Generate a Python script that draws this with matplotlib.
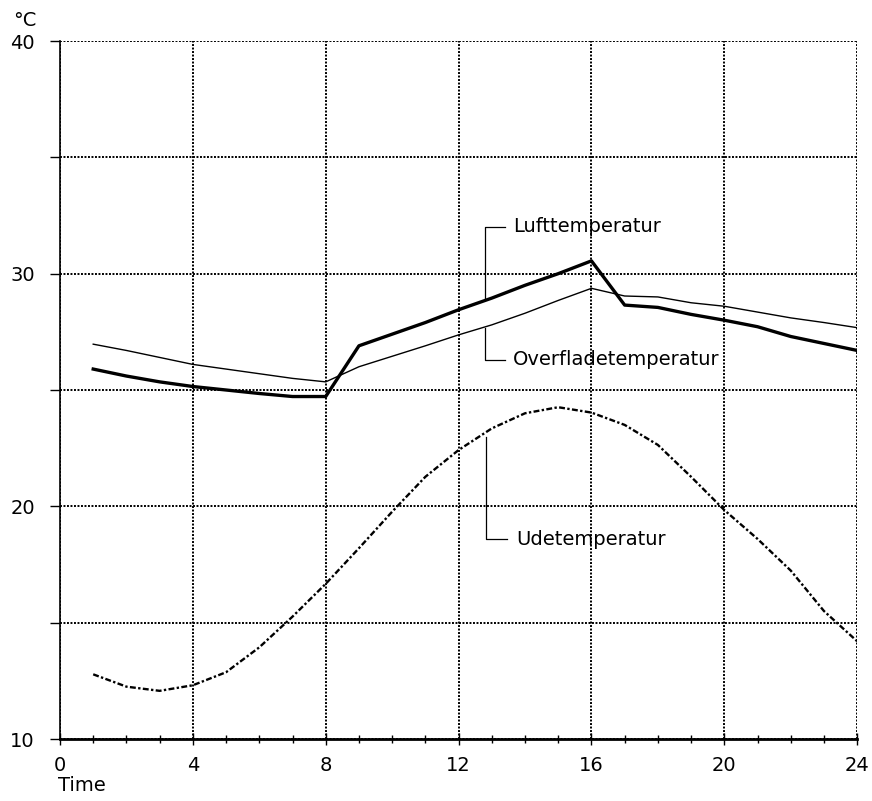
import matplotlib
matplotlib.use("Agg")
import matplotlib.pyplot as plt
from matplotlib.ticker import MultipleLocator, FixedLocator

plt.rcParams["font.family"] = ["DejaVu Sans"]

hours = list(range(1, 25))

# hourly temperatures (deg C)
luft = [25.9, 25.6, 25.35, 25.15, 25.0, 24.85, 24.72, 24.72,
        26.9, 27.4, 27.9, 28.45, 28.95, 29.5, 30.0, 30.55,
        28.65, 28.55, 28.25, 28.0, 27.72, 27.3, 27.0, 26.7]
overflade = [26.97, 26.7, 26.4, 26.1, 25.9, 25.7, 25.5, 25.35,
             26.0, 26.45, 26.9, 27.37, 27.8, 28.3, 28.85, 29.37,
             29.04, 29.0, 28.75, 28.6, 28.35, 28.1, 27.9, 27.68]
ude = [12.78, 12.25, 12.07, 12.31, 12.87, 13.94, 15.26, 16.67,
       18.2, 19.77, 21.27, 22.42, 23.35, 24.0, 24.26, 24.03,
       23.5, 22.64, 21.27, 19.84, 18.6, 17.24, 15.5, 14.2]

x_ticks = [0, 4, 8, 12, 16, 20, 24]
y_ticks = [10, 15, 20, 25, 30, 35, 40]
y_labels = ["10", "", "20", "", "30", "", "40"]

fig = plt.figure(figsize=(8.72, 8.01), dpi=100)
ax = fig.add_axes([0.0688, 0.0774, 0.9142, 0.8714])

ax.plot(hours, overflade, color="black", lw=1.0, zorder=3)
ax.plot(hours, luft, color="black", lw=2.4, zorder=4)
ax.plot(hours, ude, color="black", lw=1.7, ls=(0, (2.5, 1, 1, 1)), zorder=3)

ax.set_xlim(0, 24)
ax.set_ylim(10, 40)

ax.xaxis.set_major_locator(FixedLocator(x_ticks))
ax.xaxis.set_minor_locator(MultipleLocator(1))
ax.set_xticklabels([str(t) for t in x_ticks], fontsize=14)
ax.yaxis.set_major_locator(FixedLocator(y_ticks))
ax.set_yticklabels(y_labels, fontsize=14)

ax.tick_params(axis="x", which="major", direction="inout", length=8, width=1, pad=8)
ax.tick_params(axis="x", which="minor", direction="inout", length=6, width=1)
ax.tick_params(axis="y", direction="out", length=7, width=1, pad=11)

ax.grid(True, which="major", color="black", lw=1.4, ls=(0, (1, 0.8)))
for side in ("top", "right"):
    ax.spines[side].set_visible(False)
ax.spines["left"].set_linewidth(1.2)
ax.spines["bottom"].set_linewidth(2.0)

# leader lines for the curve labels
ax.plot([13.4, 12.8, 12.8], [32.02, 32.02, 28.85], color="black", lw=0.9)
ax.plot([13.4, 12.8, 12.8], [26.29, 26.29, 27.65], color="black", lw=0.9)
ax.plot([13.45, 12.84, 12.84], [18.59, 18.59, 23.0], color="black", lw=0.9)

ax.text(13.64, 32.02, "Lufttemperatur", fontsize=14, va="center", ha="left")
ax.text(13.64, 26.29, "Overfladetemperatur", fontsize=14, va="center", ha="left")
ax.text(13.75, 18.59, "Udetemperatur", fontsize=14, va="center", ha="left")

fig.text(0.015, 0.975, "°C", fontsize=14, va="center", ha="left")
fig.text(0.066, 0.008, "Time", fontsize=14, va="bottom", ha="left")

fig.savefig("out.png", dpi=100)
